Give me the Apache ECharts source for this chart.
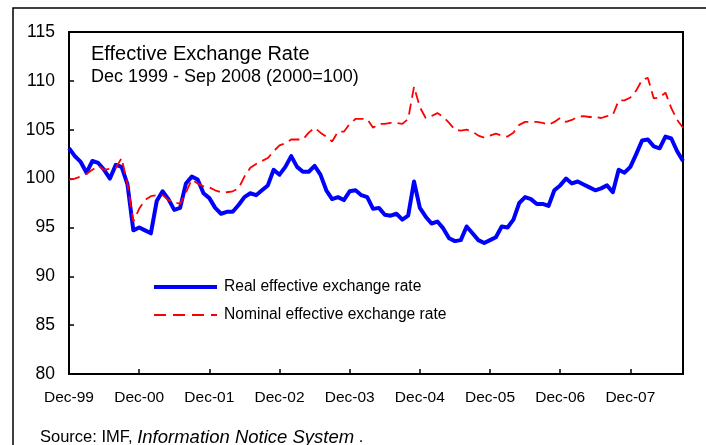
<!DOCTYPE html>
<html>
<head>
<meta charset="utf-8">
<script src="https://cdn.jsdelivr.net/npm/echarts@6/dist/echarts.min.js"></script>
<style>
  html, body { margin: 0; padding: 0; background: #fff; }
  #chart { width: 706px; height: 445px; }
</style>
</head>
<body>
<div id="chart"></div>
<script>
// Monthly index, Dec 1999 - Sep 2008 (2000 = 100)
const monthNames = ['Jan','Feb','Mar','Apr','May','Jun','Jul','Aug','Sep','Oct','Nov','Dec'];
const startYear = 1999, startMonth = 11;   // Dec-99
const monthCount = 106;                     // through Sep-08

const yTicks = { min: 80, max: 115, step: 5 };

const realRate = [
  103.1, 102.3, 101.7, 100.6, 101.8, 101.6, 100.9, 100.0, 101.4, 101.2,
  99.4, 94.7, 95.0, 94.7, 94.4, 97.7, 98.7, 97.9, 96.8, 97.0,
  99.5, 100.2, 99.9, 98.5, 98.0, 97.0, 96.4, 96.6, 96.6, 97.3,
  98.1, 98.5, 98.3, 98.8, 99.3, 100.9, 100.4, 101.2, 102.3, 101.2,
  100.7, 100.7, 101.3, 100.4, 98.8, 97.9, 98.1, 97.8, 98.7, 98.8,
  98.3, 98.1, 96.9, 97.0, 96.3, 96.2, 96.4, 95.8, 96.2, 99.7,
  97.0, 96.1, 95.4, 95.6, 94.9, 93.9, 93.6, 93.7, 95.1, 94.4,
  93.7, 93.4, 93.7, 94.0, 95.1, 95.0, 95.8, 97.5, 98.1, 97.9,
  97.4, 97.4, 97.2, 98.8, 99.3, 100.0, 99.5, 99.7, 99.4, 99.1,
  98.8, 99.0, 99.3, 98.6, 100.9, 100.6, 101.2, 102.5, 103.9, 104.0,
  103.3, 103.1, 104.3, 104.1, 102.8, 101.8
];

const nominalRate = [
  99.9, 100.0, 100.2, 100.5, 100.9, 101.3, 100.9, 101.0, 101.1, 102.1,
  99.4, 95.6, 96.9, 97.8, 98.2, 98.3, 98.3, 97.8, 97.6, 97.4,
  98.6, 99.9, 99.5, 99.2, 99.1, 98.8, 98.6, 98.6, 98.7, 99.0,
  100.2, 101.1, 101.5, 101.8, 102.1, 102.8, 103.4, 103.6, 104.0, 104.0,
  104.0, 104.7, 105.2, 104.7, 104.3, 103.8, 104.8, 104.8, 105.6, 106.1,
  106.1, 106.1, 105.2, 105.6, 105.6, 105.7, 105.7, 105.6, 106.1, 109.4,
  107.3, 106.2, 106.4, 106.7, 106.3, 105.7, 105.0, 104.9, 105.0, 104.8,
  104.4, 104.2, 104.4, 104.6, 104.4, 104.3, 104.7, 105.5, 105.8, 105.8,
  105.8, 105.7, 105.5, 105.8, 106.2, 105.8, 106.0, 106.3, 106.4, 106.3,
  106.3, 106.2, 106.4, 106.5, 108.0, 108.0, 108.3, 109.0, 110.1, 110.3,
  108.2, 108.3, 108.8, 107.2, 106.0, 105.2
];

const seriesNames = ['Real effective exchange rate', 'Nominal effective exchange rate'];

// Category labels like "Dec-99", "Jan-00", ...
const months = [];
for (let k = 0; k < monthCount; k++) {
  const m = (startMonth + k) % 12;
  const y = startYear + Math.floor((startMonth + k) / 12);
  months.push(monthNames[m] + '-' + String(y % 100).padStart(2, '0'));
}

const FONT = '"Liberation Sans", Arial, Helvetica, sans-serif';
const REAL_STYLE = { color: '#0000ff', width: 4 };
const NOMINAL_STYLE = { color: '#ff0000', width: 1.8, type: [11, 6] };

const chart = echarts.init(document.getElementById('chart'), null, { renderer: 'canvas' });

chart.setOption({
  backgroundColor: '#ffffff',
  animation: false,
  textStyle: { fontFamily: FONT, color: '#000' },
  title: {
    left: 91, top: 44, padding: 0, itemGap: 4,
    text: 'Effective Exchange Rate',
    subtext: 'Dec 1999 - Sep 2008 (2000=100)',
    textStyle: { fontFamily: FONT, fontSize: 20, fontWeight: 'normal', color: '#000' },
    subtextStyle: { fontFamily: FONT, fontSize: 18, color: '#000' }
  },
  legend: {
    orient: 'vertical', left: 152, top: 279, padding: 0,
    itemWidth: 63, itemHeight: 16, itemGap: 12,
    // line-only keys: hide the marker drawn over each key line
    itemStyle: { color: 'rgba(0,0,0,0)', borderWidth: 0, opacity: 0 },
    textStyle: { fontFamily: FONT, fontSize: 15.6, color: '#000', padding: [0, 0, 0, 2] },
    data: [
      { name: seriesNames[0], lineStyle: Object.assign({}, REAL_STYLE) },
      { name: seriesNames[1], lineStyle: Object.assign({}, NOMINAL_STYLE, { type: [12, 7] }) }
    ]
  },
  grid: {
    left: 69, top: 32, right: 23, bottom: 71,
    show: true, borderColor: '#000', borderWidth: 2, backgroundColor: '#fff'
  },
  xAxis: {
    type: 'category', data: months, boundaryGap: false,
    axisLine: { lineStyle: { color: '#000', width: 2 } },
    axisTick: { inside: true, length: 5, interval: 11, lineStyle: { color: '#000', width: 1.5 } },
    axisLabel: { interval: 11, margin: 16, fontSize: 15.5, color: '#000', fontFamily: FONT },
    splitLine: { show: false }
  },
  yAxis: {
    type: 'value', min: yTicks.min, max: yTicks.max, interval: yTicks.step,
    axisLine: { show: true, lineStyle: { color: '#000', width: 2 } },
    axisTick: { show: true, inside: true, length: 5, lineStyle: { color: '#000', width: 1.5 } },
    axisLabel: { margin: 14, fontSize: 17.5, color: '#000', fontFamily: FONT },
    splitLine: { show: false }
  },
  series: [
    {
      name: seriesNames[0], type: 'line', data: realRate,
      symbol: 'none', smooth: false,
      lineStyle: Object.assign({ join: 'round' }, REAL_STYLE),
      itemStyle: { color: REAL_STYLE.color }
    },
    {
      name: seriesNames[1], type: 'line', data: nominalRate,
      symbol: 'none', smooth: false,
      lineStyle: Object.assign({}, NOMINAL_STYLE),
      itemStyle: { color: NOMINAL_STYLE.color }
    }
  ],
  graphic: [
    {
      type: 'rect', silent: true, z: 100,
      shape: { x: 13, y: 8, width: 760, height: 500 },
      style: { fill: 'none', stroke: '#000', lineWidth: 1.5 }
    },
    {
      type: 'text', left: 40, top: 428, silent: true,
      style: {
        text: 'Source: IMF, {i|Information Notice System} .',
        font: '16.5px ' + FONT, fill: '#000',
        rich: { i: { fontStyle: 'italic', fontSize: 18.5, fontFamily: FONT, fill: '#000' } }
      }
    }
  ]
});
</script>
</body>
</html>
